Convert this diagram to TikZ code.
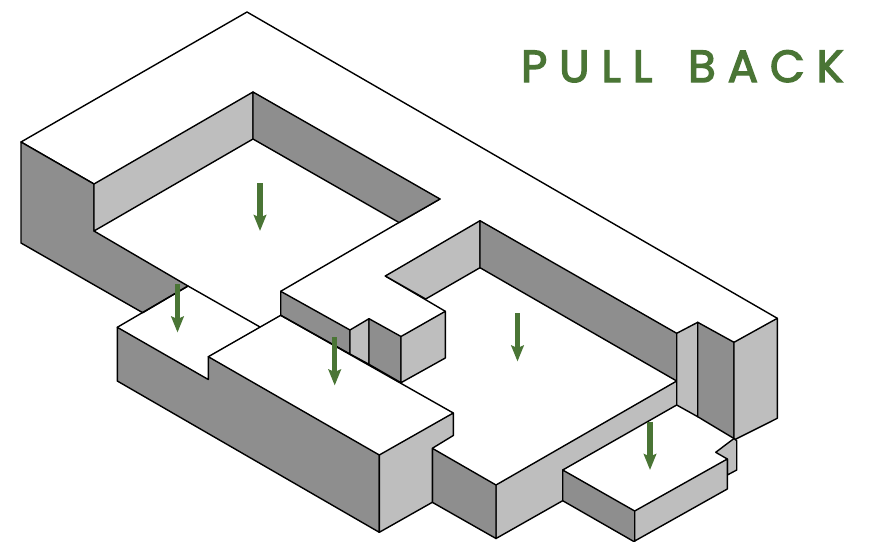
\documentclass[tikz,border=0pt]{standalone}
\usepackage{fontspec}
\usetikzlibrary{arrows.meta}
\newfontfamily\pbfont[LetterSpace=26.5,WordSpace=1.5,FakeBold=3]{Poppins}
\definecolor{pbgreen}{HTML}{4A7535}
\definecolor{facedark}{HTML}{8E8E8E}
\definecolor{facelight}{HTML}{BEBEBE}
\tikzset{
  edge/.style={draw=black,line width=1.4pt,line join=round,line cap=round},
  darkface/.style={edge,fill=facedark},
  lightface/.style={edge,fill=facelight},
  pullarrow/.style={draw=pbgreen,line width=5.4pt,-{Stealth[length=16pt,width=12.5pt,inset=2.5pt]}},
}
\begin{document}
\begin{tikzpicture}[x=1pt,y=-1pt]
\useasboundingbox (0,0) rectangle (870,541);
% top plate
\draw[edge] (94,184) -- (21,142) -- (247,12) -- (777.3,318.3);
\draw[edge] (440,199) -- (399,222.5) -- (280.7,291.3);
\draw[edge] (445.3,311.3) -- (385.3,276);
% left wall and court
\draw[darkface] (21,142) -- (94,184) -- (94,231) -- (188,286) -- (142.7,312.7) -- (21,243) -- cycle;
\draw[lightface] (94,184) -- (253,92) -- (253,139) -- (94,231) -- cycle;
\draw[darkface] (253,92) -- (440,199) -- (399,222.5) -- (253,139) -- cycle;
% centre block
\draw[darkface] (280.7,291.3) -- (350,330) -- (350,354) -- (280.7,315.3) -- cycle;
\draw[lightface] (350,330) -- (369,318.7) -- (369,364.3) -- (350,354) -- cycle;
\draw[darkface] (369,318.7) -- (401,336.5) -- (401,382.7) -- (369,364.3) -- cycle;
\draw[lightface] (401,336.5) -- (445.3,311.3) -- (445.3,358) -- (401,382.7) -- cycle;
% right court
\draw[lightface] (385.3,276) -- (480,220.7) -- (480,267.7) -- (425.7,299) -- cycle;
\draw[darkface] (480,220.7) -- (676.7,333.3) -- (676.7,381) -- (480,267.7) -- cycle;
\draw[lightface] (496,485) -- (676.7,381) -- (676.7,405) -- (562.7,470) -- (562.7,500.7) -- (496,538.5) -- cycle;
\draw[darkface] (432.3,448.3) -- (496,485) -- (496,538.5) -- (432.3,502.3) -- cycle;
% long lower block
\draw[edge] (117.3,327.3) -- (188,286) -- (259.5,326.7);
\draw[edge] (208.3,356.7) -- (280.7,315.3) -- (453.3,413);
\draw[darkface] (117.3,327.3) -- (208.3,379.5) -- (208.3,356.7) -- (379.3,455) -- (379.3,532.3) -- (117.3,381) -- cycle;
\draw[lightface] (379.3,455) -- (453.3,413) -- (453.3,435.5) -- (432.3,448.3) -- (432.3,502.3) -- (379.3,532.3) -- cycle;
% right end
\draw[lightface] (676.7,333.3) -- (697.7,322.3) -- (697.7,416.7) -- (676.7,405) -- cycle;
\draw[darkface] (697.7,322.3) -- (734,342.3) -- (734,438.5) -- (697.7,416.7) -- cycle;
\draw[lightface] (734,342.3) -- (777.3,318.3) -- (777.3,418.3) -- (734,440) -- cycle;
% small front block
\draw[lightface] (734,438.5) -- (736.7,440.7) -- (736.7,470) -- (727.3,475) -- (727.3,459) -- (715.7,452.3) -- cycle;
\draw[darkface] (562.7,470) -- (634.7,511) -- (634.7,542) -- (562.7,500.7) -- cycle;
\draw[lightface] (634.7,511) -- (727.3,459) -- (727.3,489) -- (634.7,541) -- cycle;
% arrows
\coordinate (a1s) at (260,183);   \coordinate (a1e) at (260,231);
\coordinate (a2s) at (177.5,284); \coordinate (a2e) at (177.5,332.5);
\coordinate (a3s) at (334.7,337); \coordinate (a3e) at (334.7,385.5);
\coordinate (a4s) at (517.5,313); \coordinate (a4e) at (517.5,361.5);
\coordinate (a5s) at (650,421.5); \coordinate (a5e) at (650,470);
\draw[pullarrow] (a1s) -- (a1e);
\draw[pullarrow] (a2s) -- (a2e);
\draw[pullarrow] (a3s) -- (a3e);
\draw[pullarrow] (a4s) -- (a4e);
\draw[pullarrow] (a5s) -- (a5e);
\node[anchor=base west,inner sep=0pt,text=pbgreen,font=\fontsize{45}{45}\pbfont] (title) at (521,82) {PULL BACK};
\end{tikzpicture}
\end{document}
